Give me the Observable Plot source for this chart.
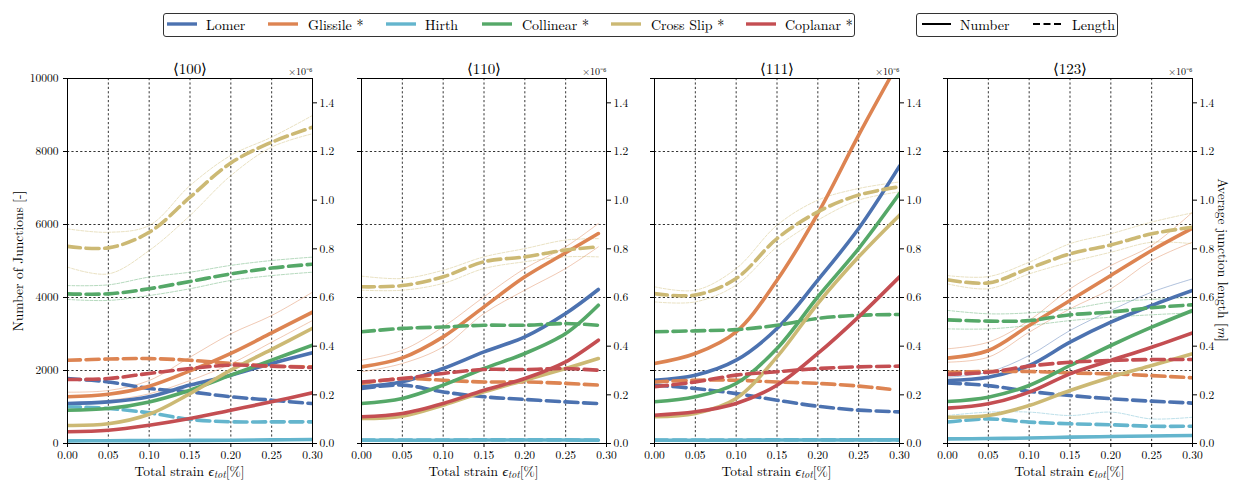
<!DOCTYPE html>
<html>
<head>
<meta charset="utf-8">
<script src="https://cdn.jsdelivr.net/npm/d3@7"></script>
<script src="https://cdn.jsdelivr.net/npm/@observablehq/plot@0.6"></script>
<style>
  html, body { margin: 0; padding: 0; background: white; }
  #root { position: relative; width: 1236px; height: 480px; overflow: hidden; color: black; }
  .panel { position: absolute; top: 50px; }
  .panel svg { overflow: visible; }
  .legbox { position: absolute; border: 1px solid #333; border-radius: 3px; box-sizing: border-box; background: white; }
  .legitem { position: absolute; font-size: 14px; line-height: 16px; white-space: nowrap; }
  .lab { position: absolute; font-size: 14px; line-height: 14px; white-space: nowrap; }
  .vlab { writing-mode: vertical-rl; font-size: 13.5px; line-height: 17px; }
  .xlab { font-size: 13.5px; line-height: 13px; }
  .xlab sub { font-size: 10px; line-height: 0; vertical-align: -2px; }
</style>
</head>
<body>
<div id="root"></div>
<script>
// ---------------- data ----------------
const types = ["Lomer", "Glissile *", "Hirth", "Collinear *", "Cross Slip *", "Coplanar *"];
const typeColors = ["#4C72B0", "#DD8452", "#64B5CD", "#55A868", "#CCB974", "#C44E52"];
const panelTitles = ["⟨100⟩", "⟨110⟩", "⟨111⟩", "⟨123⟩"];
const strainTicks = [0, 0.05, 0.10, 0.15, 0.20, 0.25, 0.30];
const numberTicks = [0, 2000, 4000, 6000, 8000, 10000];
const lengthTicks = [0, 0.2, 0.4, 0.6, 0.8, 1.0, 1.2, 1.4]; // x1e-6 m

const strainPts = [0, 0.05, 0.10, 0.15, 0.20, 0.25, 0.30];
const strainPts110 = [0, 0.05, 0.10, 0.15, 0.20, 0.25, 0.29];
const strainPts111Glissile = [0, 0.05, 0.10, 0.15, 0.20, 0.25, 0.288];

// Mean number of junctions [-], rows in order of `types`
const number100 = [
  [1096, 1140, 1280, 1600, 1872, 2192, 2484],
  [1280, 1350, 1570, 1990, 2470, 3030, 3600],
  [73, 75, 80, 85, 90, 100, 110],
  [913, 960, 1140, 1461, 1872, 2283, 2694],
  [495, 540, 800, 1365, 2010, 2580, 3155],
  [320, 365, 502, 685, 913, 1142, 1388]
];
const number110 = [
  [1553, 1689, 2055, 2511, 2922, 3562, 4219],
  [2100, 2347, 2922, 3744, 4566, 5224, 5753],
  [91, 91, 91, 95, 95, 95, 91],
  [1096, 1233, 1598, 2055, 2466, 3014, 3790],
  [685, 749, 1050, 1416, 1735, 2055, 2329],
  [731, 822, 1096, 1461, 1781, 2237, 2831]
];
const number111 = [
  [1735, 1872, 2283, 3151, 4475, 5890, 7598],
  [2192, 2466, 3059, 4475, 6301, 8447, 10000],
  [91, 91, 91, 95, 95, 100, 100],
  [1142, 1279, 1644, 2603, 4018, 5342, 6849],
  [731, 822, 1233, 2374, 3836, 5114, 6256],
  [776, 868, 1096, 1598, 2466, 3470, 4566]
];
const number123 = [
  [1726, 1817, 2137, 2776, 3324, 3781, 4192],
  [2338, 2548, 3233, 3918, 4603, 5288, 5900],
  [128, 135, 150, 174, 190, 205, 219],
  [1151, 1269, 1589, 2137, 2685, 3187, 3644],
  [721, 767, 1041, 1452, 1817, 2137, 2457],
  [968, 1087, 1406, 1909, 2274, 2639, 3032]
];

// Mean average junction length [x1e-6 m], rows in order of `types`
const length100 = [
  [0.267, 0.253, 0.226, 0.212, 0.192, 0.178, 0.164],
  [0.342, 0.347, 0.349, 0.342, 0.329, 0.318, 0.315],
  [0.151, 0.144, 0.126, 0.099, 0.089, 0.089, 0.089],
  [0.615, 0.615, 0.636, 0.666, 0.697, 0.721, 0.737],
  [0.810, 0.804, 0.868, 1.012, 1.153, 1.238, 1.300],
  [0.263, 0.267, 0.288, 0.308, 0.322, 0.318, 0.312]
];
const length110 = [
  [0.226, 0.240, 0.212, 0.192, 0.181, 0.171, 0.164],
  [0.247, 0.267, 0.260, 0.253, 0.253, 0.247, 0.240],
  [0.014, 0.014, 0.014, 0.015, 0.015, 0.015, 0.014],
  [0.459, 0.473, 0.479, 0.486, 0.486, 0.493, 0.486],
  [0.644, 0.649, 0.685, 0.747, 0.767, 0.795, 0.808],
  [0.253, 0.267, 0.288, 0.304, 0.304, 0.308, 0.301]
];
const length111 = [
  [0.240, 0.226, 0.205, 0.178, 0.153, 0.137, 0.130],
  [0.253, 0.260, 0.260, 0.253, 0.247, 0.236, 0.223],
  [0.014, 0.014, 0.014, 0.015, 0.015, 0.015, 0.015],
  [0.459, 0.463, 0.468, 0.486, 0.514, 0.527, 0.530],
  [0.616, 0.610, 0.678, 0.842, 0.952, 1.021, 1.055],
  [0.233, 0.253, 0.281, 0.295, 0.308, 0.315, 0.318]
];
const length123 = [
  [0.249, 0.238, 0.214, 0.197, 0.184, 0.174, 0.166],
  [0.293, 0.296, 0.296, 0.290, 0.286, 0.279, 0.270],
  [0.088, 0.101, 0.088, 0.081, 0.077, 0.071, 0.071],
  [0.508, 0.503, 0.505, 0.529, 0.540, 0.558, 0.570],
  [0.673, 0.660, 0.720, 0.779, 0.816, 0.862, 0.889],
  [0.284, 0.293, 0.318, 0.334, 0.341, 0.345, 0.345]
];

// A few individual realisations (thin lines)
const runNum100Glissile = [[1406, 1452, 1726, 2365, 3005, 3507, 4146], [1087, 1178, 1361, 1726, 2183, 2776, 3370]];
const runLen100CrossSlip = [[0.882, 0.868, 0.896, 1.060, 1.184, 1.259, 1.348], [0.725, 0.697, 0.793, 0.937, 1.101, 1.218, 1.273]];
const runLen100Collinear = [[0.649, 0.652, 0.684, 0.704, 0.732, 0.752, 0.766], [0.592, 0.588, 0.608, 0.636, 0.670, 0.690, 0.704]];
const runNum110Glissile = [[2283, 2557, 3196, 4018, 4795, 5388, 6027], [1963, 2192, 2648, 3562, 4201, 4795, 5388]];
const runLen110CrossSlip = [[0.688, 0.678, 0.712, 0.767, 0.801, 0.836, 0.842], [0.630, 0.630, 0.658, 0.719, 0.747, 0.767, 0.767]];
const runLen111CrossSlip = [[0.644, 0.630, 0.719, 0.897, 1.000, 1.048, 1.075], [0.582, 0.582, 0.651, 0.808, 0.918, 1.000, 1.034]];
const runNum123Glissile = [[2594, 2776, 3370, 4237, 4877, 5425, 6338], [2228, 2365, 3050, 3689, 4237, 5014, 5516]];
const runNum123Lomer = [[1817, 1954, 2411, 3096, 3644, 4146, 4511]];
const runLen123CrossSlip = [[0.690, 0.686, 0.745, 0.821, 0.862, 0.910, 0.948], [0.656, 0.636, 0.697, 0.745, 0.786, 0.827, 0.821]];
const runLen123Collinear = [[0.547, 0.533, 0.537, 0.553, 0.581, 0.592, 0.601], [0.471, 0.471, 0.485, 0.505, 0.519, 0.529, 0.537]];
const runLen123Hirth = [[0.115, 0.129, 0.129, 0.115, 0.129, 0.101, 0.108]];

const numberSets = [number100, number110, number111, number123];
const lengthSets = [length100, length110, length111, length123];
const strainSets = [strainPts, strainPts110, strainPts, strainPts];
// [panel, type index, measure, runs]
const runSets = [
  [0, 1, "num", runNum100Glissile], [0, 4, "len", runLen100CrossSlip], [0, 3, "len", runLen100Collinear],
  [1, 1, "num", runNum110Glissile], [1, 4, "len", runLen110CrossSlip],
  [2, 4, "len", runLen111CrossSlip],
  [3, 1, "num", runNum123Glissile], [3, 0, "num", runNum123Lomer], [3, 4, "len", runLen123CrossSlip],
  [3, 3, "len", runLen123Collinear], [3, 2, "len", runLen123Hirth]
];

// ---------------- fonts ----------------
function hasFont(name) {
  const c = document.createElement("canvas").getContext("2d");
  const s = "mmmmmmmmmmlli1WQ@#%&0.05";
  for (const base of ["monospace", "sans-serif", "serif"]) {
    c.font = `72px ${base}`;
    const w0 = c.measureText(s).width;
    c.font = `72px "${name}", ${base}`;
    if (Math.abs(c.measureText(s).width - w0) > 0.5) return true;
  }
  return false;
}
const fontCandidates = ["Latin Modern Roman", "CMU Serif", "Liberation Serif", "DejaVu Serif", "Times New Roman", "Noto Serif", "Tinos"];
const chosen = fontCandidates.find(hasFont);
const serif = (chosen ? `"${chosen}", ` : "") + "serif";
document.getElementById("root").style.fontFamily = serif;

// ---------------- layout ----------------
const root = document.getElementById("root");
const panelLeft = [67, 361, 654, 947];
const innerW = 245;
const NUM_MAX = 10000, LEN_MAX = 1.5; // left and right axis tops share the same pixel
const lenToNum = v => v * NUM_MAX / LEN_MAX;
const gridStyle = {stroke: "black", strokeOpacity: 1, strokeWidth: 0.8, strokeDasharray: "2.2,2.2"};

function rowsFor(p) {
  const num = [], len = [];
  types.forEach((t, k) => {
    let xs = strainSets[p];
    if (p === 2 && k === 1) xs = strainPts111Glissile;
    xs.forEach((x, j) => {
      num.push({x, y: numberSets[p][k][j], type: t});
      len.push({x, y: lenToNum(lengthSets[p][k][j]), type: t});
    });
  });
  return {num, len};
}

for (let p = 0; p < 4; p++) {
  const mL = p === 0 ? 67 : 15;
  const mR = p === 3 ? 44 : 34;
  const {num, len} = rowsFor(p);
  const marks = [
    Plot.gridX(strainTicks.slice(1, -1), gridStyle),
    Plot.gridY(numberTicks.slice(1, -1), gridStyle),
  ];
  // thin individual runs
  runSets.filter(r => r[0] === p).forEach(([, k, m, runs]) => {
    runs.forEach(vals => {
      const rows = strainSets[p].map((x, j) => ({x, y: m === "len" ? lenToNum(vals[j]) : vals[j], type: types[k]}));
      marks.push(Plot.line(rows, {x: "x", y: "y", stroke: "type", strokeWidth: 0.8, strokeOpacity: 0.55,
        strokeDasharray: m === "len" ? "3,1.5" : null, curve: "catmull-rom", clip: true}));
    });
  });
  // mean curves: number (solid) then length (dashed) for each type
  types.forEach(t => {
    marks.push(Plot.line(num.filter(d => d.type === t), {x: "x", y: "y", stroke: "type", strokeWidth: 3.6, curve: "catmull-rom", clip: true}));
    marks.push(Plot.line(len.filter(d => d.type === t), {x: "x", y: "y", stroke: "type", strokeWidth: 3.6, strokeDasharray: "13,5.6", curve: "catmull-rom", clip: true}));
  });
  marks.push(
    Plot.frame({stroke: "black", strokeWidth: 1}),
    Plot.axisX(strainTicks, {tickFormat: d3.format(".2f"), label: null, tickSize: 4, tickPadding: 3, fontSize: 11.5}),
    Plot.axisY(numberTicks, {anchor: "left", tickFormat: p === 0 ? (d => String(d)) : (() => ""), label: null, tickSize: 4, tickPadding: 5, fontSize: 11.5}),
    Plot.axisY(lengthTicks.map(lenToNum), {anchor: "right", tickFormat: d => (d * LEN_MAX / NUM_MAX).toFixed(1), label: null, tickSize: 4, tickPadding: 3, fontSize: 11.5}),
    Plot.text([panelTitles[p]], {text: d => d, frameAnchor: "top", lineAnchor: "bottom", dy: -5, fontSize: 15}),
    Plot.text(["×10⁻⁶"], {text: d => d, frameAnchor: "top-right", textAnchor: "end", lineAnchor: "bottom", dy: -4, fontSize: 10})
  );
  const svg = Plot.plot({
    width: mL + innerW + mR,
    height: 430,
    marginLeft: mL, marginRight: mR, marginTop: 28, marginBottom: 37,
    x: {domain: [0, 0.30]},
    y: {domain: [0, NUM_MAX]},
    color: {domain: types, range: typeColors},
    style: {fontFamily: serif, fontSize: "11.5px", background: "transparent", color: "black", overflow: "visible"},
    marks
  });
  const wrap = document.createElement("div");
  wrap.className = "panel";
  wrap.style.left = (panelLeft[p] - mL) + "px";
  wrap.appendChild(svg);
  root.appendChild(wrap);

  const xl = document.createElement("div");
  xl.className = "lab xlab";
  xl.style.left = (panelLeft[p] + innerW / 2) + "px";
  xl.style.top = "464px";
  xl.style.transform = "translateX(-50%)";
  xl.innerHTML = 'Total strain <i>ϵ<sub>tot</sub></i>[%]';
  root.appendChild(xl);
}

// y labels (vertical writing mode keeps the layout box upright and inside the page)
const yl = document.createElement("div");
yl.className = "lab vlab";
yl.style.left = "9px"; yl.style.top = "261px";
yl.style.transform = "translateY(-50%) rotate(180deg)";
yl.textContent = "Number of Junctions [-]";
root.appendChild(yl);
const yr = document.createElement("div");
yr.className = "lab vlab";
yr.style.left = "1215px"; yr.style.top = "260px";
yr.style.transform = "translateY(-50%)";
yr.innerHTML = "Average junction length [<i>m</i>]";
root.appendChild(yr);

// ---------------- legends ----------------
function box(l, t, w, h) {
  const b = document.createElement("div");
  b.className = "legbox";
  Object.assign(b.style, {left: l + "px", top: t + "px", width: w + "px", height: h + "px"});
  root.appendChild(b);
}
function swatch(x, y, w, color, dash, sw) {
  const ns = "http://www.w3.org/2000/svg";
  const s = document.createElementNS(ns, "svg");
  s.setAttribute("width", w); s.setAttribute("height", 8);
  s.style.position = "absolute"; s.style.left = x + "px"; s.style.top = (y - 4) + "px";
  const ln = document.createElementNS(ns, "line");
  ln.setAttribute("x1", 0); ln.setAttribute("x2", w); ln.setAttribute("y1", 4); ln.setAttribute("y2", 4);
  ln.setAttribute("stroke", color); ln.setAttribute("stroke-width", sw);
  if (dash) ln.setAttribute("stroke-dasharray", dash);
  s.appendChild(ln);
  root.appendChild(s);
}
function legText(x, y, txt) {
  const d = document.createElement("div");
  d.className = "legitem";
  d.style.left = x + "px"; d.style.top = (y - 8) + "px";
  d.textContent = txt;
  root.appendChild(d);
}
box(163, 13, 692, 24);
const legSw = [167, 268, 386, 482, 611, 746];
const legTx = [206, 308, 425, 522, 651, 785];
types.forEach((t, k) => { swatch(legSw[k], 24, 30, typeColors[k], null, 3.4); legText(legTx[k], 24, t); });
box(916, 13, 202, 24);
const measures = ["Number", "Length"];
swatch(922, 24, 29, "black", null, 2);
legText(960, 24, measures[0]);
swatch(1033, 24, 29, "black", "7,3.5", 2);
legText(1072, 24, measures[1]);
</script>
</body>
</html>
